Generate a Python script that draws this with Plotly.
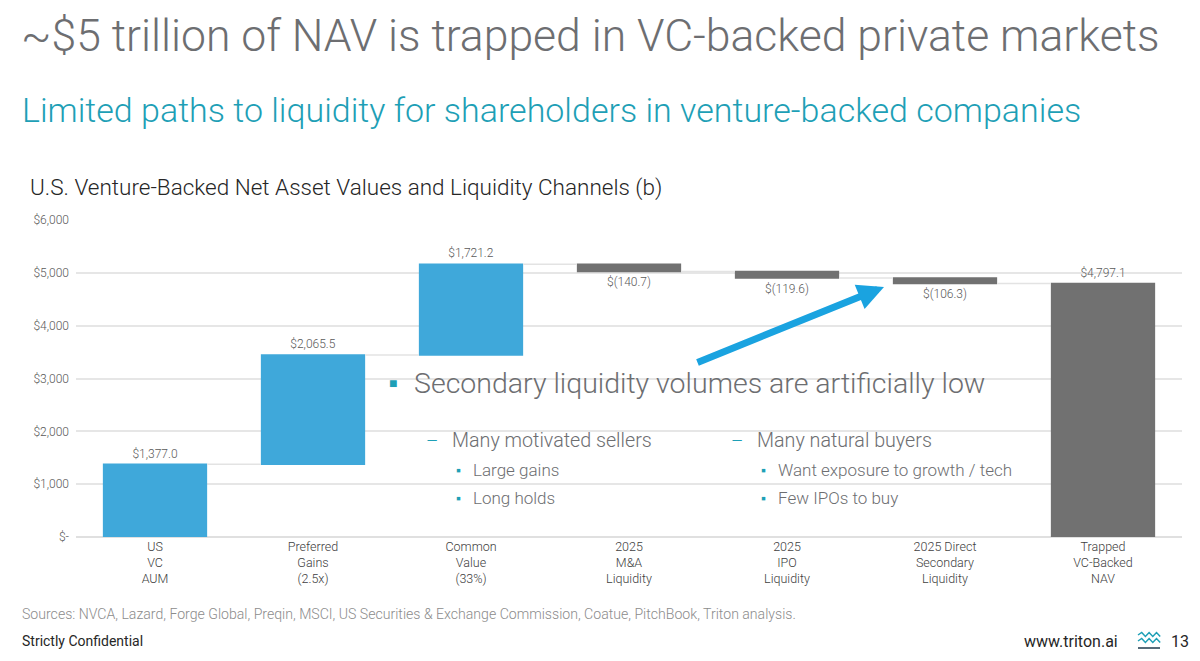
import plotly.graph_objects as go

# ---- data ----
categories = ["US VC AUM", "Preferred Gains (2.5x)", "Common Value (33%)",
              "2025 M&A Liquidity", "2025 IPO Liquidity",
              "2025 Direct Secondary Liquidity", "Trapped VC-Backed NAV"]
tick_labels = ["US<br>VC<br>AUM", "Preferred<br>Gains<br>(2.5x)", "Common<br>Value<br>(33%)",
               "2025<br>M&A<br>Liquidity", "2025<br>IPO<br>Liquidity",
               "2025 Direct<br>Secondary<br>Liquidity", "Trapped<br>VC-Backed<br>NAV"]
values = [1377.0, 2065.5, 1721.2, -140.7, -119.6, -106.3, 0]
measures = ["relative"] * 6 + ["total"]
y_tickvals = [0, 1000, 2000, 3000, 4000, 5000, 6000]
y_ticktext = ["$-", "$1,000", "$2,000", "$3,000", "$4,000", "$5,000", "$6,000"]


def fmt(v):
    return f"${v:,.1f}" if v >= 0 else f"$({abs(v):,.1f})"


total = sum(values[:6])
labels = [fmt(v) for v in values[:6]] + [fmt(total)]

BLUE = "#3FA8DA"
GRAY = "#717171"
TEAL = "#1E9FB6"
TXT = "#6D6E71"
FONT = "Roboto"

# page offset (body margin) and plot area in page pixels
OFF = 8
W, H = 1200 - OFF, 661 - OFF
X0, X1, Y0, Y1 = 76, 1182, 220, 537


def px(x):
    return (x - X0) / (X1 - X0)


def py(y):
    return (Y1 - y) / (Y1 - Y0)


fig = go.Figure(go.Waterfall(
    x=categories, y=values, measure=measures,
    text=labels, textposition="outside",
    textfont=dict(size=12, color="#595959", family=FONT, weight=300),
    increasing=dict(marker=dict(color=BLUE)),
    decreasing=dict(marker=dict(color=GRAY)),
    totals=dict(marker=dict(color=GRAY)),
    connector=dict(line=dict(color="#E3E3E3", width=1.5)),
    cliponaxis=False,
))

ann = []


def txt(x, y, s, size, color=TXT, xanchor="left", yanchor="middle", weight=300, pad=1):
    ann.append(dict(x=px(x), y=py(y), xref="paper", yref="paper", text=s,
                    showarrow=False, xanchor=xanchor, yanchor=yanchor, borderpad=pad,
                    font=dict(family=FONT, size=size, color=color, weight=weight)))


# slide titles
txt(20, 36, "~$5 trillion of NAV is trapped in VC-backed private markets", 44.5, pad=0)
txt(20, 110, "Limited paths to liquidity for shareholders in venture-backed companies", 34, TEAL)
txt(28, 187, "U.S. Venture-Backed Net Asset Values and Liquidity Channels (b)", 22.5, "#262626")

# call-out box text
txt(387, 383, "■", 14, TEAL)
txt(412, 383, "Secondary liquidity volumes are artificially low", 28.5)
txt(424, 440, "–", 19, TEAL)
txt(450, 440, "Many motivated sellers", 19.7)
txt(454, 470, "▪", 14, TEAL)
txt(471, 470, "Large gains", 17)
txt(454, 498, "▪", 14, TEAL)
txt(471, 498, "Long holds", 17)
txt(729, 440, "–", 19, TEAL)
txt(755, 440, "Many natural buyers", 19.7)
txt(759, 470, "▪", 14, TEAL)
txt(776, 470, "Want exposure to growth / tech", 17)
txt(759, 498, "▪", 14, TEAL)
txt(776, 498, "Few IPOs to buy", 17)

# footer
txt(20, 614, "Sources: NVCA, Lazard, Forge Global, Preqin, MSCI, US Securities & Exchange Commission, "
    "Coatue, PitchBook, Triton analysis.", 14.1, "#8C8C8C")
txt(20, 641, "Strictly Confidential", 14, "#262626", weight=400)
txt(1120, 641, "www.triton.ai", 16, "#262626", xanchor="right", weight=400)
txt(1191, 641, "13", 16, "#262626", xanchor="right", weight=400)

# arrow
ann.append(dict(x=px(884), y=py(287), xref="paper", yref="paper", ax=-188, ay=76,
                showarrow=True, arrowhead=2, arrowsize=0.75, arrowwidth=7,
                arrowcolor="#1AA3E0", text=""))

shapes = [dict(type="rect", xref="paper", yref="paper", x0=px(372), x1=px(1044),
               y0=py(520), y1=py(364), fillcolor="white", line=dict(width=0),
               layer="between")]


def wave(yc, color):
    xs = [1138 + i * 3.7 for i in range(7)]
    d = f"M {px(xs[0])},{py(yc)}"
    for i in range(1, 7):
        yy = yc - 2.5 if i % 2 else yc + 1.5
        d += f" L {px(xs[i])},{py(yy)}"
    return dict(type="path", xref="paper", yref="paper", path=d,
                line=dict(color=color, width=1.5))


shapes.append(wave(635, TEAL))
shapes.append(wave(641, TEAL))
shapes.append(dict(type="line", xref="paper", yref="paper", x0=px(1138), x1=px(1160),
                   y0=py(648), y1=py(648), line=dict(color="#1F3A4D", width=1.5)))

fig.update_layout(
    width=W, height=H,
    margin=dict(l=X0 - OFF, r=W - (X1 - OFF), t=Y0 - OFF, b=H - (Y1 - OFF)),
    paper_bgcolor="white", plot_bgcolor="white",
    font=dict(family=FONT, weight=300, color="#404040"),
    showlegend=False,
    waterfallgap=0.34,
    annotations=ann, shapes=shapes,
    xaxis=dict(tickvals=categories, ticktext=tick_labels, showgrid=False,
               tickfont=dict(size=12.5, color="#404040", family=FONT, weight=300),
               showline=False, ticks=""),
    yaxis=dict(range=[0, 6000], tickvals=y_tickvals, ticktext=y_ticktext,
               showgrid=True, gridcolor="#E6E6E6", gridwidth=1.5,
               zeroline=True, zerolinecolor="#E0E0E0", zerolinewidth=1.5,
               tickfont=dict(size=12, color="#595959", family=FONT, weight=300),
               ticks="", ticklabelstandoff=6),
)

fig.write_html("out.html")
